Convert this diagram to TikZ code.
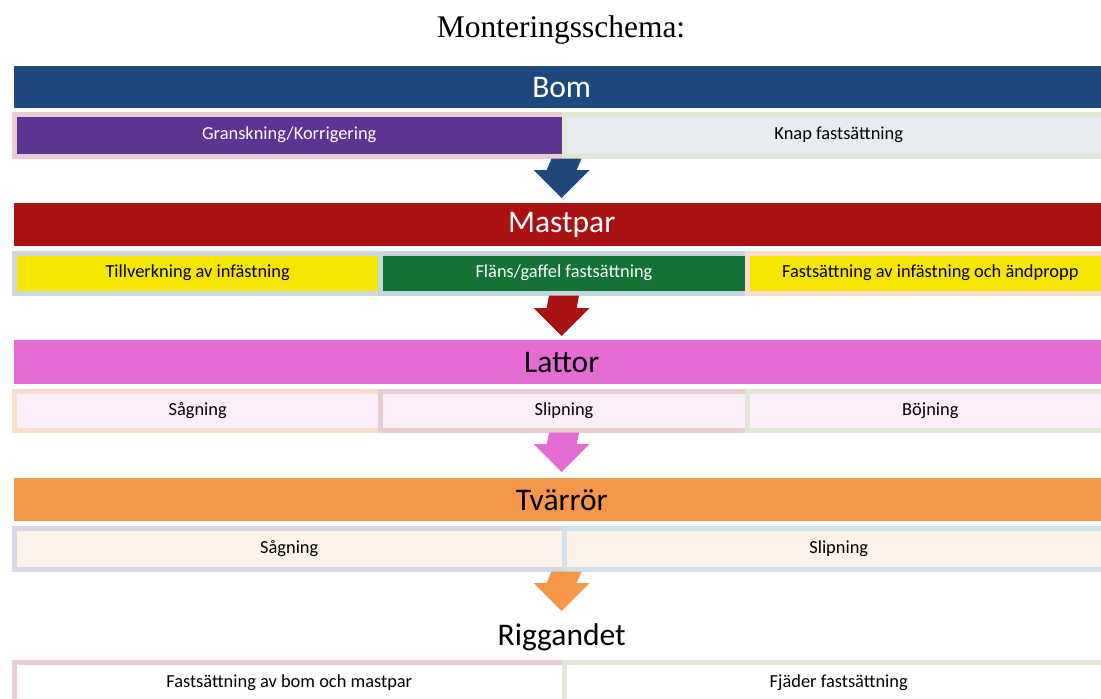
\documentclass[tikz,border=0pt]{standalone}
\usepackage{fontspec}
\setmainfont{Carlito}
\newfontfamily\titlefont{Liberation Serif}
\usetikzlibrary{calc}

\definecolor{bomblue}{RGB}{31,73,125}
\definecolor{mastred}{RGB}{170,17,17}
\definecolor{lattpink}{RGB}{228,108,212}
\definecolor{tvarorange}{RGB}{246,150,72}
\definecolor{granpurple}{RGB}{92,53,148}
\definecolor{knapgray}{RGB}{232,236,241}
\definecolor{mastyellow}{RGB}{245,230,0}
\definecolor{flansgreen}{RGB}{19,114,52}
\definecolor{lattfill}{RGB}{252,238,249}
\definecolor{tvarfill}{RGB}{253,242,234}
\definecolor{bdpink}{RGB}{232,204,210}
\definecolor{bdgreen}{RGB}{224,231,212}
\definecolor{bdgray}{RGB}{208,214,222}
\definecolor{bdblue}{RGB}{194,216,222}
\definecolor{bdpeach}{RGB}{252,220,205}
\definecolor{bdlav}{RGB}{216,213,228}
\definecolor{bdsky}{RGB}{208,225,233}

\tikzset{
  header/.style={anchor=north west, inner sep=0, minimum width=1095, font=\fontsize{31.5}{36}\selectfont},
  subbox/.style={anchor=north west, inner sep=0, draw, line width=5, font=\fontsize{18.4}{22}\selectfont}
}

\newcommand{\blockarrow}[3]{%
  \fill[#1] ($(#2)+(-15,0)$) -- ($(#2)+(15,0)$) -- ($(#3)+(15,-28)$) -- ($(#3)+(28,-28)$)
    -- (#3) -- ($(#3)+(-28,-28)$) -- ($(#3)+(-15,-28)$) -- cycle;}

\begin{document}
\begin{tikzpicture}[x=1pt,y=-1pt]
            \useasboundingbox (0,0) rectangle (1101,699);
            \clip (0,0) rectangle (1101,699);

            \node (title) at (561,30) [font=\titlefont\fontsize{31.5}{36}\selectfont] {Monteringsschema:};

            % headers
            \node (bom) at (14,66) [header, minimum height=42, fill=bomblue, text=white] {Bom};
            \node (mast) at (14,203) [header, minimum height=43, fill=mastred, text=white] {Mastpar};
            \node (latt) at (14,340) [header, minimum height=44, fill=lattpink] {Lattor};
            \node (tvar) at (14,478) [header, minimum height=43, fill=tvarorange] {Tvärrör};
            \node (rigg) at (14,616) [header, minimum height=42] {Riggandet};

            % sub steps
            \node (gran) at (12,111.5) [subbox, minimum width=549.5, minimum height=42, draw=bdpink, fill=granpurple, text=white] {Granskning/Korrigering};
            \node (knap) at (561.5,111.5) [subbox, minimum width=549.5, minimum height=42, draw=bdgreen, fill=knapgray] {Knap fastsättning};

            \node (tillv) at (12,250.5) [subbox, minimum width=366.3, minimum height=40, draw=bdgray, fill=mastyellow] {Tillverkning av infästning};
            \node (flans) at (378.3,250.5) [subbox, minimum width=366.4, minimum height=40, draw=bdblue, fill=flansgreen, text=white] {Fläns/gaffel fastsättning};
            \node (fast) at (744.7,250.5) [subbox, minimum width=366.3, minimum height=40, draw=bdpeach, fill=mastyellow] {Fastsättning av infästning och ändpropp};

            \node (lsag) at (12,388.5) [subbox, minimum width=366.3, minimum height=39, draw=bdpeach, fill=lattfill] {Sågning};
            \node (lslip) at (378.3,388.5) [subbox, minimum width=366.4, minimum height=39, draw=bdpink, fill=lattfill] {Slipning};
            \node (lboj) at (744.7,388.5) [subbox, minimum width=366.3, minimum height=39, draw=bdgreen, fill=lattfill] {Böjning};

            \node (tsag) at (12,525.5) [subbox, minimum width=549.5, minimum height=41, draw=bdlav, fill=tvarfill] {Sågning};
            \node (tslip) at (561.5,525.5) [subbox, minimum width=549.5, minimum height=41, draw=bdsky, fill=tvarfill] {Slipning};

            \node (rbom) at (12,659.5) [subbox, minimum width=549.5, minimum height=42, draw=bdpink, fill=white] {Fastsättning av bom och mastpar};
            \node (rfjad) at (561.5,659.5) [subbox, minimum width=549.5, minimum height=42, draw=bdgreen, fill=white] {Fjäder fastsättning};

            % arrows
            \coordinate (t1) at ($(mast.north)+(0,-5)$);
            \coordinate (t2) at ($(latt.north)+(0,-4)$);
            \coordinate (t3) at ($(tvar.north)+(0,-6)$);
            \coordinate (t4) at ($(rigg.north)+(0,-5)$);
            \blockarrow{bomblue}{gran.south east}{t1}
            \blockarrow{mastred}{flans.south}{t2}
            \blockarrow{lattpink}{lslip.south}{t3}
            \blockarrow{tvarorange}{tsag.south east}{t4}

        \end{tikzpicture}
\end{document}
